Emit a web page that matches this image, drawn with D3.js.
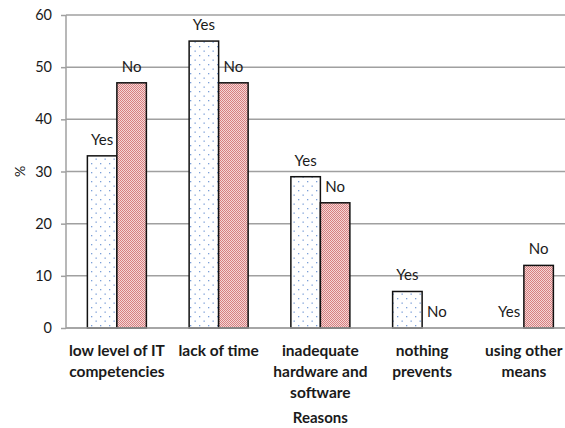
<!DOCTYPE html>
<html><head><meta charset="utf-8">
<script src="https://cdn.jsdelivr.net/npm/d3@7"></script>
<style>body{margin:0;background:#fff}svg{display:block}text{font-family:Lato,"Open Sans",sans-serif;fill:#1a1a1a}</style>
</head><body>
<svg id="c" width="565" height="428"></svg>
<script>
const categories = [["low level of IT","competencies"],["lack of time"],["inadequate","hardware and","software"],["nothing","prevents"],["using other","means"]];
const seriesNames = ["Yes","No"];
const yesValues = [33, 55, 29, 7, 0];
const noValues = [47, 47, 24, 0, 12];
const yTicks = [0,10,20,30,40,50,60];
const xTitle = "Reasons";
const yTitle = "%";

(function(){
const svg = d3.select("#c");
const defs = svg.append("defs");
const p1 = defs.append("pattern").attr("id","dots").attr("patternUnits","userSpaceOnUse").attr("width",9).attr("height",9);
p1.append("rect").attr("width",9).attr("height",9).attr("fill","#fff");
p1.append("rect").attr("x",1).attr("y",1).attr("width",1.3).attr("height",1.3).attr("fill","#7b9fd8");
p1.append("rect").attr("x",5.5).attr("y",5.5).attr("width",1.3).attr("height",1.3).attr("fill","#7b9fd8");
const p2 = defs.append("pattern").attr("id","check").attr("patternUnits","userSpaceOnUse").attr("width",2).attr("height",2);
p2.append("rect").attr("width",2).attr("height",2).attr("fill","#f4d6d6");
p2.append("rect").attr("width",1).attr("height",1).attr("fill","#d77f7f");
p2.append("rect").attr("x",1).attr("y",1).attr("width",1).attr("height",1).attr("fill","#d77f7f");

const pl = 66, pr = 574.75, pt = 15, pb = 328;
const x = d3.scaleBand().domain(categories.map((d,i)=>i)).range([pl,pr]).paddingInner(0).paddingOuter(0);
const y = d3.scaleLinear().domain([0,60]).range([pb,pt]);
const bw = 29.5;

svg.append("g").selectAll("line").data(yTicks).join("line")
  .attr("x1",pl).attr("x2",pr).attr("y1",d=>y(d)).attr("y2",d=>y(d))
  .attr("stroke","#a0a0a0").attr("stroke-width",1.5);

const ya = svg.append("g").attr("transform",`translate(${pl},0)`)
  .call(d3.axisLeft(y).tickValues(yTicks).tickSize(5).tickPadding(9).tickFormat(d3.format("d")));
ya.select(".domain").attr("stroke","#a0a0a0").attr("stroke-width",1.5).attr("d",`M0,${pt}V${pb}`);
ya.selectAll(".tick line").attr("stroke","#a0a0a0").attr("stroke-width",1.5);
ya.selectAll(".tick text").attr("font-size",14.5).attr("font-family","Lato").attr("fill","#1a1a1a");

const g = svg.append("g");
const cx = i => x(i) + x.bandwidth()/2;
g.selectAll("rect.yes").data(yesValues).join("rect").attr("class","yes")
  .attr("x",(d,i)=>cx(i)-bw).attr("width",bw).attr("y",d=>y(d)).attr("height",d=>y(0)-y(d))
  .attr("fill","url(#dots)").attr("stroke",d=>d>0?"#111":"none").attr("stroke-width",1.5);
g.selectAll("rect.no").data(noValues).join("rect").attr("class","no")
  .attr("x",(d,i)=>cx(i)).attr("width",bw).attr("y",d=>y(d)).attr("height",d=>y(0)-y(d))
  .attr("fill","url(#check)").attr("stroke",d=>d>0?"#111":"none").attr("stroke-width",1.5);

svg.append("line").attr("x1",pl).attr("x2",pr).attr("y1",pb).attr("y2",pb)
  .attr("stroke","#a0a0a0").attr("stroke-width",1.5);

g.selectAll("text.ly").data(yesValues).join("text").attr("class","ly")
  .attr("x",(d,i)=>cx(i)-bw/2).attr("y",d=>y(d)-11).attr("text-anchor","middle").attr("font-size",15)
  .text(seriesNames[0]);
g.selectAll("text.ln").data(noValues).join("text").attr("class","ln")
  .attr("x",(d,i)=>cx(i)+bw/2).attr("y",d=>y(d)-11).attr("text-anchor","middle").attr("font-size",15)
  .text(seriesNames[1]);

categories.forEach((lines,i)=>{
  lines.forEach((t,j)=>{
    svg.append("text").attr("x",cx(i)).attr("y",355.5+j*21).attr("text-anchor","middle")
      .attr("font-size",15.5).attr("font-weight","bold").text(t);
  });
});
svg.append("text").attr("x",(pl+pr)/2).attr("y",423).attr("text-anchor","middle")
  .attr("font-size",15).attr("font-weight","bold").text(xTitle);
svg.append("text").attr("transform",`translate(25,${(pt+pb)/2}) rotate(-90)`).attr("text-anchor","middle")
  .attr("font-size",14).text(yTitle);
})();
</script>
</body></html>
